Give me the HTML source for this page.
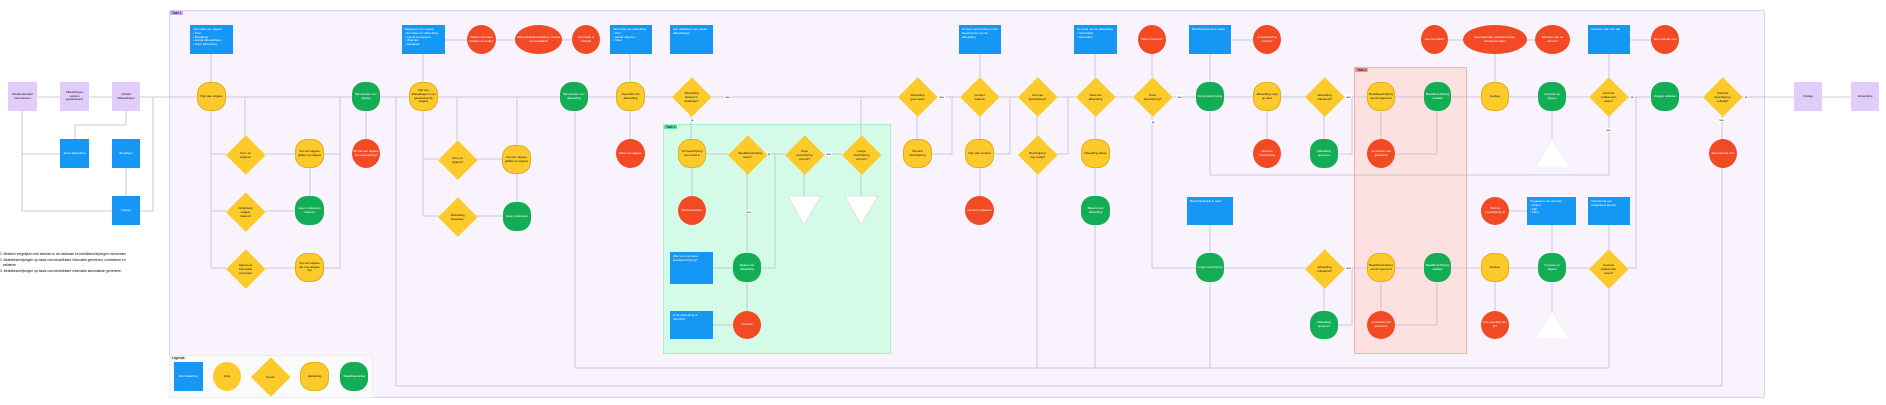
<!DOCTYPE html>
<html><head><meta charset="utf-8"><style>
body{margin:0;width:1886px;height:405px;background:#fff;position:relative;overflow:hidden;font-family:"Liberation Sans",sans-serif}
.n{position:absolute;display:flex;align-items:center;justify-content:center;text-align:center;font-size:3px;line-height:1.25;box-sizing:border-box;padding:1px;overflow:hidden}
.b{background:#1497f5;color:#fff;text-align:left;justify-content:flex-start;align-items:flex-start;padding:3px}
.y{background:#fccb2b;border:0.6px solid #e3ae16;border-radius:12px;color:#111}
.g{background:#13ad55;border-radius:12px;color:#fff}
.r{background:#f24a24;border-radius:50%;color:#fff}
.p{background:#e2ccfb;color:#111}
.d{position:absolute;z-index:1;isolation:isolate;width:39px;height:39px;display:flex;align-items:center;justify-content:center;font-size:3px;text-align:center;color:#111}
.d::before{content:"";position:absolute;left:5.7px;top:5.7px;width:27.6px;height:27.6px;background:#fccb2b;transform:rotate(45deg);z-index:-1}
.d span{position:relative;width:18px}
.lb{position:absolute;font-size:3px;color:#111;background:#fff;padding:0 1px}
.t{position:absolute;font-size:3.2px;padding:0 2px;border-radius:1px}
</style></head><body>
<div style="position:absolute;left:169px;top:10px;width:1596px;height:388px;background:#f8f3fd;border:1px solid #ddd0f5;border-radius:2px;box-sizing:border-box"></div>
<div class="t" style="left:170px;top:11px;background:#c9a8f5">Taak 1</div>
<div style="position:absolute;left:663px;top:124px;width:228px;height:230px;background:#d3fbe7;border:1px solid #a8f0c6;box-sizing:border-box"></div>
<div class="t" style="left:664px;top:125px;background:#56e39a">Taak 3</div>
<div style="position:absolute;left:1354px;top:67px;width:113px;height:287px;background:#fde0e0;border:1px solid #f5b0b0;box-sizing:border-box"></div>
<div class="t" style="left:1355px;top:68px;background:#f58f8f">Taak 4</div>
<div style="position:absolute;left:169px;top:355px;width:204px;height:43px;background:#fafafa;border:1px solid #eee;box-sizing:border-box"></div>
<div class="t" style="left:170px;top:356px;background:#eee">Legenda</div>

<svg style="position:absolute;left:0;top:0" width="1886" height="405" fill="none" stroke="#bdbdc8" stroke-width="0.8">
<path d="M22 111V154H60M22 154V211H112M75 139V125H126V111M126 196V168M37 97H60M89 97H112M140 97H197M140 211H153V97M211 54V82M226 97H352M211 111V268H226M211 154H226M211 211H226M265 154H295M265 211H295M265 268H295M324 154H340V97M324 268H340V97M310 196V168M245 135V97M366 139V111M380 97H409M423 54V82M467 40H445M515 40H496M572 40H562M438 97H560M423 111V216H438M423 159H438M476 159H502M476 216H503M517 145V97M457 140V97M517 202V174M588 97H616M630 54V82M630 111V139M645 97H673M691 116V139M706 154H728M766 154H785M823 154H842M804 173V196M861 173V196M747 173V253M713 268H733M713 325H733M747 282V311M761 268H775V154H785M692 168V196M711 97H898M861 135V97M917 116V139M932 154H952V97H960M936 97H960M980 54V77M980 116V139M980 196V168M994 154H1010V97H1018M999 97H1018M1037 116V135M1056 154H1068V97H1076M1056 97H1076M1037 173V368M1095 54V77M1095 116V139M1095 168V196M1095 225V368M1114 97H1133M1152 54V77M1171 97H1196M1152 116V268H1196M1210 54V82M1210 225V253M1224 97H1253M1210 111V175H1609V116M575 111V368H1609V287M1210 282V368M396 97V386H1722V168M1722 139V116M1253 40H1231M1281 97H1305M1267 111V139M1324 116V139M1343 97H1367M1338 154H1352V97M1395 97H1424M1381 111V139M1437 111V154H1395M1451 97H1481M1495 54V82M1448 40H1463M1535 40H1527M1509 97H1538M1552 139V111M1566 97H1589M1609 54V77M1651 40H1630M1628 97H1651M1679 97H1703M1741 97H1794M1822 97H1851M1628 268H1636V97H1651M1224 268H1305M1343 268H1367M1324 287V311M1338 325H1352V268M1381 282V311M1395 268H1424M1437 282V325H1395M1451 268H1481M1495 282V311M1509 268H1538M1552 311V282M1566 268H1589M1552 225V253M1509 211H1527M1609 225V249"/>
<polygon points="788,196 821,196 804,225" fill="#fff" stroke="#ddd"/>
<polygon points="845,196 878,196 861,225" fill="#fff" stroke="#ddd"/>
<polygon points="1552,139 1570,168 1535,168" fill="#fff" stroke="#eee"/>
<polygon points="1552,311 1570,339 1535,339" fill="#fff" stroke="#eee"/>
</svg>

<div class="n p" style="left:8px;top:82px;width:29px;height:29px">Beeldmateriaal komt binnen</div>
<div class="n p" style="left:60px;top:82px;width:29px;height:29px">Afbeeldingen worden geselecteerd</div>
<div class="n p" style="left:112px;top:82px;width:28px;height:29px">Upload afbeeldingen</div>
<div class="n b" style="left:60px;top:139px;width:29px;height:29px;justify-content:center;align-items:center;text-align:center">Soort afbeelding</div>
<div class="n b" style="left:112px;top:139px;width:28px;height:29px;justify-content:center;align-items:center">Beeldtype</div>
<div class="n b" style="left:112px;top:196px;width:28px;height:29px;justify-content:center;align-items:center">Uitgave</div>
<div style="position:absolute;left:0;top:252px;width:160px;font-size:3.3px;line-height:1.7">1. Beelden vergelijken met beelden in de database en beeldbeschrijvingen overnemen<br>2. Beeldbeschrijvingen op basis van beschikbare informatie genereren, controleren en<br>&nbsp;&nbsp;&nbsp;valideren<br>3. Beeldbeschrijvingen op basis van beschikbare informatie automatisch genereren</div>

<div class="n b" style="left:190px;top:25px;width:43px;height:29px">Informatie per uitgave<br>• Titel<br>• Beeldtype<br>• Aantal afbeeldingen<br>• Soort afbeelding</div>
<div class="n y" style="left:197px;top:82px;width:29px;height:29px">Kijk naar uitgave</div>
<div class="d" style="left:226px;top:135px"><span>Vorm en uitgave?</span></div>
<div class="d" style="left:226px;top:192px"><span>Onderwerp uitgave bekend</span></div>
<div class="d" style="left:226px;top:249px"><span>Algemene informatie verzorgen</span></div>
<div class="n y" style="left:295px;top:139px;width:29px;height:29px">Sel van uitgave geflitst op uitgave</div>
<div class="n g" style="left:295px;top:196px;width:29px;height:29px">Geen onderwerp bekend</div>
<div class="n y" style="left:295px;top:253px;width:29px;height:29px">Sel van uitgave die met uitgave zijn</div>
<div class="n g" style="left:352px;top:82px;width:28px;height:29px">Beoordelen van uitgave</div>
<div class="n r" style="left:352px;top:139px;width:28px;height:29px">Bij ziet een uitgave een aanpassing?</div>

<div class="n b" style="left:402px;top:25px;width:43px;height:29px">Beginpunt per uitgave<br>Informatie per afbeelding<br>• Aantal weergaven<br>• Objecten<br>• Metadata</div>
<div class="n r" style="left:467px;top:25px;width:29px;height:29px">Welke informatie hebben ze nodig?</div>
<div class="n r" style="left:515px;top:25px;width:47px;height:29px">Afbeeldingsbeschrijving, context en metadata?</div>
<div class="n r" style="left:572px;top:25px;width:28px;height:29px">Informatie is bekend</div>
<div class="n y" style="left:409px;top:82px;width:29px;height:29px">Kijk van afbeeldingen in de geselecteerde uitgave</div>
<div class="d" style="left:438px;top:140px"><span>Vorm en uitgave?</span></div>
<div class="d" style="left:438px;top:197px"><span>Afbeelding bewerken</span></div>
<div class="n y" style="left:502px;top:145px;width:29px;height:29px">Sel van uitgave geflitst op uitgave</div>
<div class="n g" style="left:503px;top:202px;width:28px;height:29px">Geen onderwerp</div>
<div class="n g" style="left:560px;top:82px;width:28px;height:29px">Beoordelen van afbeelding</div>

<div class="n b" style="left:610px;top:25px;width:42px;height:29px">Informatie per afbeelding<br>• Titel<br>• Aantal objecten<br>• Sfeer</div>
<div class="n b" style="left:670px;top:25px;width:43px;height:29px">Een database met unieke afbeeldingen</div>
<div class="n y" style="left:616px;top:82px;width:29px;height:29px">Overzicht van afbeelding</div>
<div class="n r" style="left:616px;top:139px;width:29px;height:29px">Mate van uitgave</div>
<div class="d" style="left:672px;top:77px"><span>Afbeelding bekend in database?</span></div>
<div class="lb" style="left:724px;top:95px">nee</div><div class="lb" style="left:690px;top:118px">ja</div>

<div class="n y" style="left:678px;top:139px;width:28px;height:29px">Vul beschrijving van beeld in</div>
<div class="d" style="left:728px;top:135px"><span>Beeldbeschrijving klopt?</span></div>
<div class="d" style="left:785px;top:135px"><span>Korte beschrijving correct?</span></div>
<div class="d" style="left:842px;top:135px"><span>Lange beschrijving correct?</span></div>
<div class="lb" style="left:767px;top:152px">ja</div><div class="lb" style="left:825px;top:152px">nee</div><div class="lb" style="left:745px;top:210px">nee</div>
<div class="n r" style="left:678px;top:196px;width:28px;height:29px">Zelf beschrijven</div>
<div class="n b" style="left:670px;top:252px;width:43px;height:32px">Wat is er met deze beeldbeschrijving?</div>
<div class="n g" style="left:733px;top:253px;width:28px;height:29px">Maken van afbeelding</div>
<div class="n b" style="left:670px;top:311px;width:43px;height:28px">Is de afbeelding al gebruikt?</div>
<div class="n r" style="left:733px;top:311px;width:28px;height:28px">Controle</div>

<div class="d" style="left:898px;top:77px"><span>Afbeelding geen tekst</span></div>
<div class="lb" style="left:938px;top:95px">nee</div>
<div class="n y" style="left:903px;top:139px;width:29px;height:29px">Opmerk beschrijving</div>
<div class="n b" style="left:959px;top:25px;width:42px;height:29px">Context heeft belang bij de beschrijving van de afbeelding</div>
<div class="d" style="left:960px;top:77px"><span>Context bekend</span></div>
<div class="n y" style="left:965px;top:139px;width:29px;height:29px">Kijk naar context</div>
<div class="n r" style="left:965px;top:196px;width:29px;height:29px">Context onbekend</div>
<div class="d" style="left:1018px;top:77px"><span>Ook een beschrijving?</span></div>
<div class="d" style="left:1018px;top:135px"><span>Beschrijving nog nodig?</span></div>
<div class="n b" style="left:1074px;top:25px;width:43px;height:29px">Het doel van de afbeelding<br>• Informatief<br>• Decoratief</div>
<div class="d" style="left:1076px;top:77px"><span>Doel van afbeelding</span></div>
<div class="n y" style="left:1081px;top:139px;width:29px;height:29px">Afbeelding alleen</div>
<div class="n g" style="left:1081px;top:196px;width:29px;height:29px">Bekend van afbeelding</div>
<div class="n r" style="left:1138px;top:25px;width:28px;height:29px">Wat is het doel?</div>
<div class="d" style="left:1133px;top:77px"><span>Korte beschrijving?</span></div>
<div class="lb" style="left:1176px;top:95px">nee</div><div class="lb" style="left:1151px;top:120px">ja</div>
<div class="n b" style="left:1189px;top:25px;width:42px;height:29px">Beschrijf gebruik in tekst</div>
<div class="n g" style="left:1196px;top:82px;width:28px;height:29px">Korte beschrijving</div>
<div class="n b" style="left:1187px;top:197px;width:46px;height:28px">Beschrijf details in tekst</div>
<div class="n g" style="left:1196px;top:253px;width:28px;height:29px">Lange beschrijving</div>

<div class="n r" style="left:1253px;top:25px;width:28px;height:29px">Is beschrijving correct?</div>
<div class="n y" style="left:1253px;top:82px;width:28px;height:29px">Afbeelding volgt op tekst</div>
<div class="n r" style="left:1253px;top:139px;width:28px;height:29px">Zelf een beschrijving</div>
<div class="d" style="left:1305px;top:77px"><span>Afbeelding onbekend?</span></div>
<div class="d" style="left:1305px;top:249px"><span>Afbeelding onbekend?</span></div>
<div class="lb" style="left:1345px;top:95px">nee</div><div class="lb" style="left:1345px;top:266px">nee</div>
<div class="n g" style="left:1310px;top:139px;width:28px;height:29px">Afbeelding opnemen</div>
<div class="n g" style="left:1310px;top:311px;width:28px;height:28px">Afbeelding opnemen</div>
<div class="n y" style="left:1367px;top:82px;width:28px;height:29px">Beeldbeschrijving wordt ingevoerd</div>
<div class="n y" style="left:1367px;top:253px;width:28px;height:29px">Beeldbeschrijving wordt ingevoerd</div>
<div class="n r" style="left:1367px;top:139px;width:28px;height:29px">Controleer wat gemeld is</div>
<div class="n r" style="left:1367px;top:311px;width:28px;height:28px">Controleer wat gemeld is</div>
<div class="n g" style="left:1424px;top:82px;width:27px;height:29px">Beeldbeschrijving opslaan</div>
<div class="n g" style="left:1424px;top:253px;width:27px;height:29px">Beeldbeschrijving opslaan</div>
<div class="n r" style="left:1421px;top:25px;width:27px;height:29px">Hoe specifiek?</div>
<div class="n r" style="left:1463px;top:25px;width:64px;height:29px">Woordgebruik, toonkenmerken, kleurkenmerken</div>
<div class="n r" style="left:1535px;top:25px;width:35px;height:29px">Wanneer zijn de termen?</div>
<div class="n y" style="left:1481px;top:82px;width:28px;height:29px">Analyse</div>
<div class="n y" style="left:1481px;top:253px;width:28px;height:29px">Analyse</div>
<div class="n r" style="left:1481px;top:197px;width:28px;height:28px">Sluit de beschrijving af</div>
<div class="n r" style="left:1481px;top:311px;width:28px;height:28px">Hoe specifiek ben ik?</div>
<div class="n b" style="left:1527px;top:197px;width:49px;height:28px">Toepassen van opmaak<br>• Object<br>• Stijl<br>• Kleur</div>
<div class="n g" style="left:1538px;top:82px;width:28px;height:29px">Controle op uitgave</div>
<div class="n g" style="left:1538px;top:253px;width:28px;height:29px">Controle op uitgave</div>
<div class="n b" style="left:1588px;top:25px;width:42px;height:29px">Gebruik maar ook stijl</div>
<div class="n b" style="left:1588px;top:197px;width:42px;height:28px">Verbetering van subjectieve termen</div>
<div class="d" style="left:1589px;top:77px"><span>Controle voldoet aan eisen?</span></div>
<div class="d" style="left:1589px;top:249px"><span>Controle voldoet aan eisen?</span></div>
<div class="lb" style="left:1630px;top:95px">ja</div><div class="lb" style="left:1605px;top:128px">nee</div>
<div class="n r" style="left:1651px;top:25px;width:28px;height:29px">Stel controle vast</div>
<div class="n g" style="left:1651px;top:82px;width:28px;height:29px">Uitgave afsluiten</div>
<div class="d" style="left:1703px;top:77px"><span>Controle beschrijving volledig?</span></div>
<div class="lb" style="left:1744px;top:95px">ja</div><div class="lb" style="left:1718px;top:118px">nee</div>
<div class="n r" style="left:1709px;top:139px;width:28px;height:29px">Stel controle vast</div>
<div class="n p" style="left:1794px;top:82px;width:28px;height:29px">Opslag</div>
<div class="n p" style="left:1851px;top:82px;width:28px;height:29px">Verwerking</div>

<div class="n b" style="left:174px;top:362px;width:29px;height:29px;justify-content:center;align-items:center">Informatiebron</div>
<div class="n r" style="left:213px;top:362px;width:28px;height:29px;background:#fccb2b;color:#111">Actie</div>
<div class="d" style="left:251px;top:357px"><span>Keuze</span></div>
<div class="n y" style="left:300px;top:362px;width:29px;height:29px">Handeling</div>
<div class="n g" style="left:340px;top:362px;width:28px;height:29px">Taakafhandeling</div>
</body></html>
